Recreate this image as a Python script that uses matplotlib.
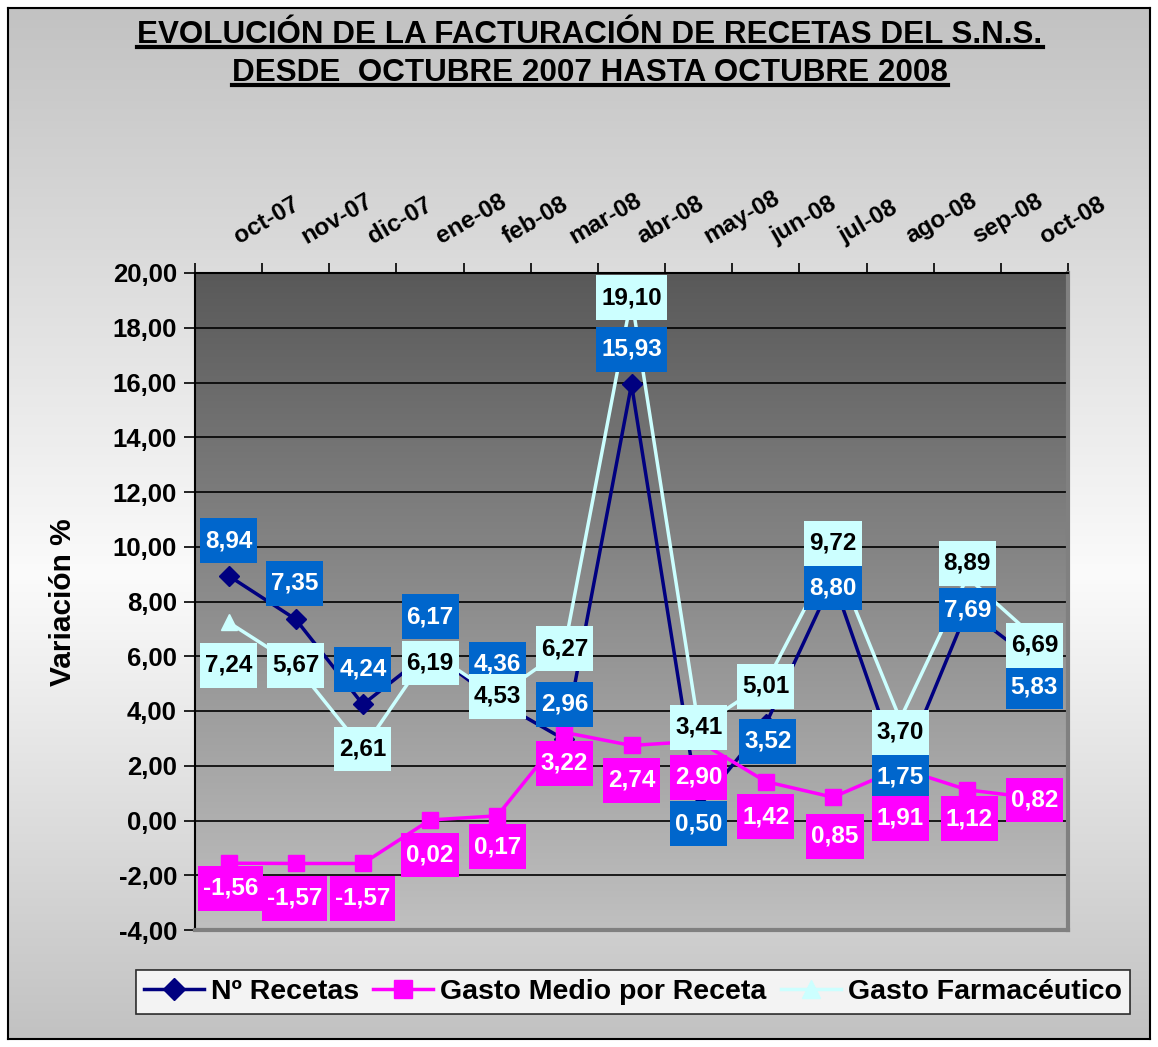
import numpy as np
import matplotlib
matplotlib.use("Agg")
import matplotlib.pyplot as plt
from matplotlib.colors import LinearSegmentedColormap
from matplotlib.transforms import ScaledTranslation
from matplotlib.lines import Line2D
from matplotlib.path import Path
from matplotlib.ticker import FuncFormatter

# data
meses = ["oct-07", "nov-07", "dic-07", "ene-08", "feb-08", "mar-08", "abr-08",
         "may-08", "jun-08", "jul-08", "ago-08", "sep-08", "oct-08"]
n_recetas = [8.94, 7.35, 4.24, 6.17, 4.36, 2.96, 15.93, 0.50, 3.52, 8.80, 1.75, 7.69, 5.83]
gasto_medio = [-1.56, -1.57, -1.57, 0.02, 0.17, 3.22, 2.74, 2.90, 1.42, 0.85, 1.91, 1.12, 0.82]
gasto_farm = [7.24, 5.67, 2.61, 6.19, 4.53, 6.27, 19.10, 3.41, 5.01, 9.72, 3.70, 8.89, 6.69]

# label offsets in pixels (dx, dy)
off_recetas = [(0, 35), (-1, 36), (0, 35), (0, 35), (0, 37), (0, 35), (0, 35),
               (0, -17), (2, -17), (0, -8), (0, -4), (0, 0), (0, -26)]
off_medio = [(2, -25), (-1, -35), (0, -35), (0, -35), (0, -31), (0, -31), (0, -35),
             (0, -36), (0, -35), (2, -39), (0, -50), (2, -29), (0, -2)]
off_farm = [(0, -43), (0, 0), (0, 0), (0, -12), (0, 0), (0, 0), (0, 0),
            (0, 0), (0, -3), (0, 11), (0, -13), (0, 14), (0, -8)]

NAVY = "#000080"
MAG = "#ff00ff"
CYAN = "#ccffff"
BLUE = "#0066cc"

plt.rcParams["font.family"] = ["Liberation Sans", "DejaVu Sans"]
plt.rcParams["font.weight"] = "bold"

W, H = 1158, 1047
fig = plt.figure(figsize=(W / 100, H / 100), dpi=100, facecolor="white")

# outer background with gradient
bg = fig.add_axes([8 / W, 8 / H, 1 - 16 / W, 1 - 16 / H], zorder=0)
bg_cmap = LinearSegmentedColormap.from_list(
    "bg", [(0, "#c2c2c2"), (0.55, "#fbfbfb"), (1, "#c2c2c2")])
bg.imshow(np.linspace(0, 1, 256).reshape(-1, 1), cmap=bg_cmap, aspect="auto",
          extent=[0, 1, 0, 1])
bg.set_xticks([])
bg.set_yticks([])
for s in bg.spines.values():
    s.set_color("black")
    s.set_linewidth(1.5)

ax = fig.add_axes([195 / W, 1 - 930 / H, (1068 - 195) / W, (930 - 273) / H], zorder=1)
pa_cmap = LinearSegmentedColormap.from_list("pa", ["#595959", "#c0c0c0"])
ax.imshow(np.linspace(0, 1, 256).reshape(-1, 1), cmap=pa_cmap, aspect="auto",
          extent=[0, 1, 0, 1], transform=ax.transAxes, zorder=0)

x = np.arange(len(meses))
ax.set_xlim(-0.5, len(meses) - 0.5)
ax.set_ylim(-4, 20)

for yv in np.arange(-2, 20, 2):
    ax.axhline(yv, color="black", lw=1.2, zorder=1)

ax.plot(x, n_recetas, color=NAVY, lw=2.5, marker="D", ms=10, zorder=3)
ax.plot(x, gasto_medio, color=MAG, lw=2.5, marker="s", ms=12, zorder=3)
ax.plot(x, gasto_farm, color=CYAN, lw=2.5, marker="^", ms=12, zorder=3)


def fmt(v):
    return f"{v:.2f}".replace(".", ",")


def caja(x0, y0, width, height, mutation_size):
    # rectangle with more padding top/bottom than sides (like Excel labels)
    px = 0.2 * mutation_size
    py = 0.45 * mutation_size
    a, b = x0 - px, y0 - py
    c, d = x0 + width + px, y0 + height + py
    return Path([(a, b), (c, b), (c, d), (a, d), (a, b)], closed=True)


def etiquetas(vals, offs, fc, tc, z):
    for i, v in enumerate(vals):
        ax.annotate(fmt(v), (x[i], v), xytext=offs[i], textcoords="offset pixels",
                    ha="center", va="center", fontsize=17.5, fontweight="bold",
                    color=tc, zorder=z,
                    bbox=dict(boxstyle=caja, fc=fc, ec="none"))


etiquetas(n_recetas, off_recetas, BLUE, "white", 5)
etiquetas(gasto_medio, off_medio, MAG, "white", 6)
etiquetas(gasto_farm, off_farm, CYAN, "black", 7)

# axes styling
ax.spines["top"].set_color("black")
ax.spines["left"].set_color("black")
ax.spines["top"].set_linewidth(1.5)
ax.spines["left"].set_linewidth(1.5)
ax.spines["right"].set_color("#808080")
ax.spines["bottom"].set_color("#808080")
ax.spines["right"].set_linewidth(3)
ax.spines["bottom"].set_linewidth(3)

ax.xaxis.tick_top()
ax.set_xticks(x)
ax.set_xticklabels(meses, rotation=30, ha="left", rotation_mode="anchor",
                   fontsize=17.5, fontweight="bold")
ax.set_xticks(np.arange(-0.5, len(meses), 1), minor=True)
ax.tick_params(axis="x", which="major", length=0, pad=18)
ax.tick_params(axis="x", which="minor", length=7, width=1.2, direction="out", top=True)
shift = ScaledTranslation(13 / 100, 0, fig.dpi_scale_trans)
for lab in ax.get_xticklabels():
    lab.set_transform(lab.get_transform() + shift)

ax.set_yticks(np.arange(-4, 21, 2))
ax.yaxis.set_major_formatter(FuncFormatter(lambda v, p: fmt(v)))
ax.tick_params(axis="y", length=8, width=1.2, direction="out", labelsize=18.5, pad=5)
for lab in ax.get_yticklabels():
    lab.set_fontweight("bold")

fig.text(63 / W, 1 - 602 / H, "Variación %", rotation=90, ha="center", va="center",
         fontsize=21.5, fontweight="bold")

# title with underline
t1 = fig.text(590 / W, 1 - 35 / H, "EVOLUCIÓN DE LA FACTURACIÓN DE RECETAS DEL S.N.S.",
              ha="center", va="center", fontsize=22.6, fontweight="bold")
t2 = fig.text(590 / W, 1 - 73 / H, "DESDE  OCTUBRE 2007 HASTA OCTUBRE 2008",
              ha="center", va="center", fontsize=22.6, fontweight="bold")
fig.canvas.draw()
r = fig.canvas.get_renderer()
for t in (t1, t2):
    bb = t.get_window_extent(r)
    yline = bb.y0 + 3
    fig.add_artist(Line2D([bb.x0, bb.x1], [yline, yline], color="black", lw=3,
                          transform=None))

handles = [
    Line2D([], [], color=NAVY, lw=2.5, marker="D", ms=11),
    Line2D([], [], color=MAG, lw=2.5, marker="s", ms=13),
    Line2D([], [], color=CYAN, lw=2.5, marker="^", ms=13),
]
leg = fig.legend(handles, ["Nº Recetas", "Gasto Medio por Receta", "Gasto Farmacéutico"],
                 loc="center", bbox_to_anchor=(633 / W, 1 - 992 / H), ncol=3,
                 fontsize=20.5, frameon=True, fancybox=False, handlelength=2.1,
                 handletextpad=0.25, columnspacing=0.5, borderpad=0.3)
leg.get_frame().set_edgecolor("black")
leg.get_frame().set_facecolor("white")
leg.get_frame().set_linewidth(1.2)
for txt in leg.get_texts():
    txt.set_fontweight("bold")

fig.savefig("out.png", dpi=100, facecolor=fig.get_facecolor())
